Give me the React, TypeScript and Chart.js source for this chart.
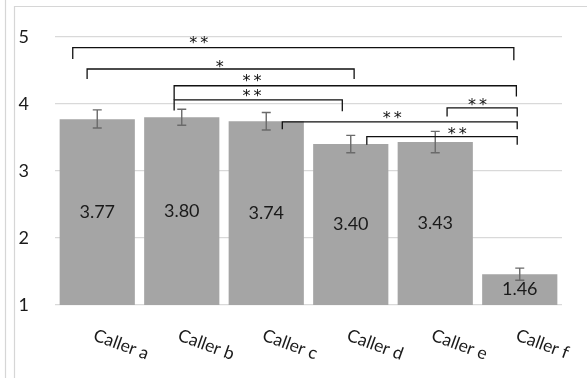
import { useEffect, useRef } from 'react';
import { Chart, registerables } from 'chart.js';

Chart.register(...registerables);

const categories = ['Caller a', 'Caller b', 'Caller c', 'Caller d', 'Caller e', 'Caller f'];
const means = [3.77, 3.8, 3.74, 3.4, 3.43, 1.46];
const errPlus = [0.14, 0.12, 0.13, 0.13, 0.16, 0.09];
const errMinus = [0.13, 0.12, 0.13, 0.13, 0.16, 0.09];
const yMin = 1;
const yMax = 5;

// significance brackets (x in category index units, y in value units)
const bracketFrom = [-0.29, -0.12, 0.91, 0.91, 2.19, 4.14, 3.19];
const bracketTo = [4.93, 3.04, 4.96, 2.9, 4.97, 4.97, 4.97];
const bracketLevel = [4.84, 4.52, 4.27, 4.06, 3.73, 3.94, 3.51];
const bracketFromEnd = [4.67, 4.37, 4.06, 3.9, 3.62, 3.81, 3.39];
const bracketToEnd = [4.65, 4.37, 4.11, 3.89, 3.62, 3.81, 3.39];
const bracketMark = ['**', '*', '**', '**', '**', '**', '**'];
const markX = [1.2, 1.45, 1.83, 1.83, 3.49, 4.5, 4.26];
const markY = [4.95, 4.59, 4.38, 4.16, 3.83, 4.03, 3.6];

const FONT = 'Lato, "Open Sans", sans-serif';

const overlayPlugin = {
  id: 'overlay',
  beforeDraw(chart: any) {
    const ctx = chart.ctx;
    ctx.save();
    ctx.strokeStyle = '#d6d6d6';
    ctx.lineWidth = 1.2;
    ctx.beginPath();
    ctx.moveTo(5.5, 0);
    ctx.lineTo(5.5, chart.height);
    ctx.moveTo(14.5, chart.height);
    ctx.lineTo(14.5, 6.5);
    ctx.lineTo(chart.width, 6.5);
    ctx.stroke();
    ctx.restore();
  },
  afterDatasetsDraw(chart: any) {
    const ctx = chart.ctx;
    const xs = chart.scales.x;
    const ys = chart.scales.y;
    ctx.save();

    // error bars
    ctx.strokeStyle = '#6a6a6a';
    ctx.lineWidth = 1.4;
    means.forEach((m, i) => {
      const x = xs.getPixelForValue(i);
      const top = ys.getPixelForValue(m + errPlus[i]);
      const bot = ys.getPixelForValue(m - errMinus[i]);
      ctx.beginPath();
      ctx.moveTo(x, top);
      ctx.lineTo(x, bot);
      ctx.moveTo(x - 4.5, top);
      ctx.lineTo(x + 4.5, top);
      ctx.moveTo(x - 4.5, bot);
      ctx.lineTo(x + 4.5, bot);
      ctx.stroke();
    });

    // value labels
    ctx.fillStyle = '#1a1a1a';
    ctx.font = `18px ${FONT}`;
    ctx.textAlign = 'center';
    ctx.textBaseline = 'middle';
    means.forEach((m, i) => {
      const x = xs.getPixelForValue(i);
      const y = (ys.getPixelForValue(m) + ys.getPixelForValue(yMin)) / 2;
      ctx.fillText(m.toFixed(2), x, y);
    });

    // brackets
    ctx.strokeStyle = '#111';
    ctx.lineWidth = 1.3;
    bracketFrom.forEach((f, i) => {
      const x1 = xs.getPixelForValue(f);
      const x2 = xs.getPixelForValue(bracketTo[i]);
      const yl = ys.getPixelForValue(bracketLevel[i]);
      ctx.beginPath();
      ctx.moveTo(x1, ys.getPixelForValue(bracketFromEnd[i]));
      ctx.lineTo(x1, yl);
      ctx.lineTo(x2, yl);
      ctx.lineTo(x2, ys.getPixelForValue(bracketToEnd[i]));
      ctx.stroke();
    });

    // significance marks
    ctx.fillStyle = '#111';
    ctx.font = '16px "DejaVu Sans", sans-serif';
    ctx.textAlign = 'center';
    ctx.textBaseline = 'alphabetic';
    (ctx as any).letterSpacing = '3px';
    bracketMark.forEach((s, i) => {
      const m = ctx.measureText(s);
      const cx = xs.getPixelForValue(markX[i]);
      const cy = ys.getPixelForValue(markY[i]);
      const by = cy + (m.actualBoundingBoxAscent - m.actualBoundingBoxDescent) / 2;
      ctx.fillText(s, cx + 1.5, by);
    });
    (ctx as any).letterSpacing = '0px';

    // category labels, rotated
    ctx.fillStyle = '#1a1a1a';
    ctx.font = `17.5px ${FONT}`;
    ctx.textAlign = 'left';
    ctx.textBaseline = 'alphabetic';
    const base = ys.getPixelForValue(yMin);
    categories.forEach((c, i) => {
      const x = xs.getPixelForValue(i);
      ctx.save();
      ctx.translate(x - 5, base + 35);
      ctx.rotate((20 * Math.PI) / 180);
      ctx.fillText(c, 0, 0);
      ctx.restore();
    });

    ctx.restore();
  },
};

export default function App() {
  const ref = useRef<HTMLCanvasElement>(null);
  useEffect(() => {
    document.body.style.margin = '0';
    const chart = new Chart(ref.current!, {
      type: 'bar',
      data: {
        labels: categories,
        datasets: [
          {
            data: means,
            backgroundColor: '#a5a5a5',
            borderWidth: 0,
            barPercentage: 0.89,
            categoryPercentage: 1,
          },
        ],
      },
      options: {
        responsive: false,
        animation: false,
        layout: { padding: { left: 0, right: 25, top: 24, bottom: 73 } },
        plugins: { legend: { display: false }, tooltip: { enabled: false } },
        scales: {
          x: { display: false },
          y: {
            min: yMin,
            max: yMax,
            afterFit: (s: any) => {
              s.width = 55;
            },
            border: { display: false },
            grid: { color: '#d9d9d9', lineWidth: 1.2, drawTicks: false },
            ticks: {
              stepSize: 1,
              padding: 26,
              color: '#1a1a1a',
              font: { family: FONT, size: 18 },
            },
          },
        },
      },
      plugins: [overlayPlugin],
    });
    return () => chart.destroy();
  }, []);
  return (
    <div style={{ width: 587, height: 378 }}>
      <canvas ref={ref} width={587} height={378} />
    </div>
  );
}
